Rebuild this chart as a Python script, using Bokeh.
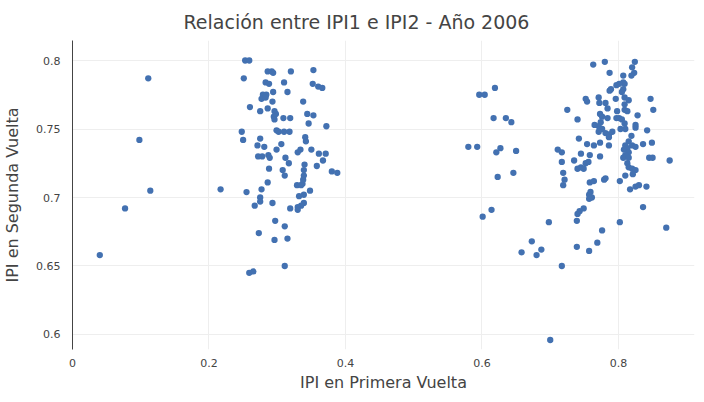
from bokeh.plotting import figure
from bokeh.models import FixedTicker, Range1d, ColumnDataSource
from bokeh.embed import file_html
from bokeh.resources import INLINE

ipi1 = [0.111, 0.098, 0.114, 0.077, 0.040, 0.217,
        0.253, 0.259, 0.286, 0.292, 0.294, 0.320, 0.353, 0.251, 0.283, 0.288, 0.310, 0.352, 0.360, 0.366,
        0.294, 0.279, 0.284, 0.277, 0.283, 0.315, 0.293, 0.338, 0.260, 0.275, 0.286, 0.296, 0.298, 0.295,
        0.296, 0.309, 0.319, 0.344, 0.353, 0.346, 0.372, 0.248, 0.299, 0.302, 0.310, 0.318, 0.250, 0.275,
        0.341, 0.342, 0.271, 0.281, 0.306, 0.299, 0.334, 0.330, 0.350, 0.272, 0.278, 0.287, 0.289, 0.361,
        0.371, 0.312,
        0.317, 0.340, 0.339, 0.339, 0.338, 0.337, 0.367, 0.358, 0.380, 0.388, 0.288, 0.308, 0.311, 0.286,
        0.329, 0.335, 0.277, 0.255, 0.348, 0.275, 0.275, 0.267, 0.293, 0.332, 0.339, 0.339, 0.335, 0.330,
        0.330, 0.319, 0.297, 0.311, 0.273, 0.296, 0.315, 0.259, 0.265, 0.311,
        0.619, 0.596, 0.604, 0.617, 0.635, 0.643, 0.725, 0.740, 0.752, 0.754, 0.593, 0.580, 0.621, 0.627,
        0.650, 0.623, 0.646, 0.711, 0.717, 0.742, 0.754, 0.745, 0.717, 0.735, 0.740, 0.745, 0.749, 0.752,
        0.756, 0.719, 0.721, 0.719, 0.758, 0.757,
        0.601, 0.614, 0.698, 0.673, 0.658, 0.680, 0.687, 0.717, 0.739, 0.739, 0.740, 0.743, 0.749, 0.757,
        0.700,
        0.763, 0.780, 0.824, 0.820, 0.823, 0.819, 0.787, 0.807, 0.807, 0.809, 0.801, 0.797, 0.789, 0.787,
        0.807, 0.805, 0.771, 0.796, 0.809, 0.815, 0.847, 0.772, 0.781, 0.784, 0.809, 0.809, 0.813, 0.851,
        0.773, 0.776, 0.798, 0.784, 0.828, 0.797, 0.801, 0.805, 0.774, 0.771, 0.776, 0.809, 0.810, 0.825,
        0.825, 0.803, 0.765, 0.842, 0.771, 0.781, 0.786, 0.791, 0.786, 0.819, 0.764, 0.773, 0.786, 0.810,
        0.815, 0.820, 0.825, 0.813, 0.808, 0.815, 0.810, 0.807, 0.815, 0.836, 0.849, 0.758, 0.773, 0.845,
        0.850, 0.875, 0.813, 0.815, 0.820, 0.825, 0.821, 0.810, 0.802, 0.764, 0.779, 0.781, 0.759, 0.761,
        0.757, 0.817, 0.825, 0.830, 0.841, 0.836, 0.802, 0.776, 0.870, 0.769]

ipi2 = [0.787, 0.742, 0.705, 0.692, 0.658, 0.706,
        0.800, 0.800, 0.792, 0.792, 0.791, 0.792, 0.793, 0.787, 0.784, 0.783, 0.784, 0.783, 0.781, 0.780,
        0.777, 0.775, 0.775, 0.772, 0.773, 0.777, 0.770, 0.770, 0.766, 0.763, 0.765, 0.763, 0.761, 0.759,
        0.757, 0.758, 0.758, 0.761, 0.760, 0.754, 0.752, 0.748, 0.749, 0.748, 0.748, 0.748, 0.742, 0.743,
        0.744, 0.741, 0.738, 0.737, 0.739, 0.735, 0.735, 0.733, 0.735, 0.730, 0.730, 0.731, 0.729, 0.732,
        0.732, 0.729,
        0.725, 0.724, 0.720, 0.716, 0.713, 0.710, 0.727, 0.723, 0.719, 0.718, 0.721, 0.720, 0.716, 0.711,
        0.709, 0.709, 0.706, 0.704, 0.705, 0.700, 0.697, 0.694, 0.696, 0.701, 0.702, 0.696, 0.694, 0.693,
        0.691, 0.692, 0.683, 0.679, 0.674, 0.669, 0.670, 0.645, 0.646, 0.650,
        0.780, 0.775, 0.775, 0.758, 0.758, 0.755, 0.764, 0.757, 0.772, 0.770, 0.737, 0.737, 0.733, 0.736,
        0.734, 0.715, 0.718, 0.735, 0.733, 0.743, 0.739, 0.732, 0.726, 0.727, 0.721, 0.722, 0.721, 0.725,
        0.726, 0.718, 0.713, 0.709, 0.711, 0.702,
        0.686, 0.691, 0.682, 0.668, 0.660, 0.658, 0.662, 0.650, 0.683, 0.664, 0.688, 0.690, 0.692, 0.661,
        0.596,
        0.797, 0.799, 0.799, 0.795, 0.791, 0.789, 0.791, 0.789, 0.784, 0.783, 0.783, 0.782, 0.779, 0.778,
        0.779, 0.777, 0.773, 0.772, 0.773, 0.771, 0.772, 0.769, 0.769, 0.765, 0.768, 0.764, 0.763, 0.764,
        0.761, 0.759, 0.763, 0.758, 0.760, 0.758, 0.758, 0.757, 0.755, 0.752, 0.750, 0.754, 0.750, 0.753,
        0.751, 0.750, 0.753, 0.749, 0.748, 0.747, 0.746, 0.748, 0.744, 0.745, 0.738, 0.740, 0.738, 0.738,
        0.741, 0.738, 0.737, 0.736, 0.735, 0.733, 0.731, 0.729, 0.729, 0.739, 0.740, 0.731, 0.730, 0.729,
        0.729, 0.727, 0.725, 0.722, 0.721, 0.720, 0.717, 0.716, 0.712, 0.712, 0.713, 0.714, 0.704, 0.700,
        0.699, 0.706, 0.708, 0.709, 0.708, 0.693, 0.682, 0.676, 0.678, 0.667]

x_ticks = [0, 0.2, 0.4, 0.6, 0.8]
x_labels = ["0", "0.2", "0.4", "0.6", "0.8"]
y_ticks = [0.6, 0.65, 0.7, 0.75, 0.8]
y_labels = ["0.6", "0.65", "0.7", "0.75", "0.8"]

FONT = "DejaVu Sans"
TXT = "#444444"

src = ColumnDataSource(data=dict(x=ipi1, y=ipi2))

p = figure(frame_width=622, frame_height=309, output_backend="svg", toolbar_location=None,
           x_range=Range1d(0, 0.9114), y_range=Range1d(0.58905, 0.8146),
           min_border_left=64, min_border_right=2, min_border_top=34, min_border_bottom=10,
           title="Relación entre IPI1 e IPI2 - Año 2006")
p.outline_line_color = None
p.background_fill_color = "white"
p.border_fill_color = "white"

p.title.text_font = FONT
p.title.text_font_size = "19px"
p.title.text_font_style = "normal"
p.title.text_color = TXT
p.title.align = "left"
p.title.offset = 111
p.title.standoff = 16

p.scatter("x", "y", source=src, size=6.3, color="#4371b1", line_color=None)

p.xaxis.ticker = FixedTicker(ticks=x_ticks)
p.yaxis.ticker = FixedTicker(ticks=y_ticks)
p.xaxis.major_label_overrides = dict(zip(x_ticks, x_labels))
p.yaxis.major_label_overrides = dict(zip(y_ticks, y_labels))

for ax in (p.xaxis[0], p.yaxis[0]):
    ax.major_tick_line_color = None
    ax.minor_tick_line_color = None
    ax.major_tick_out = 0
    ax.major_tick_in = 0
    ax.minor_tick_out = 0
    ax.minor_tick_in = 0
    ax.major_label_text_font = FONT
    ax.major_label_text_font_size = "11px"
    ax.major_label_text_color = TXT
    ax.axis_label_text_font = FONT
    ax.axis_label_text_font_size = "16px"
    ax.axis_label_text_font_style = "normal"
    ax.axis_label_text_color = TXT

p.xaxis.axis_line_color = None
p.yaxis.axis_line_color = "#444444"
p.yaxis.axis_line_width = 1
p.xaxis.major_label_standoff = 9
p.yaxis.major_label_standoff = 12
p.xaxis.axis_label_standoff = 3
p.yaxis.axis_label_standoff = 11
p.xaxis.axis_label = "IPI en Primera Vuelta"
p.yaxis.axis_label = "IPI en Segunda Vuelta"

p.xgrid.grid_line_color = "#eeeeee"
p.ygrid.grid_line_color = "#eeeeee"
p.xgrid.grid_line_width = 1
p.ygrid.grid_line_width = 1

open("out.html", "w").write(file_html(p, INLINE))
